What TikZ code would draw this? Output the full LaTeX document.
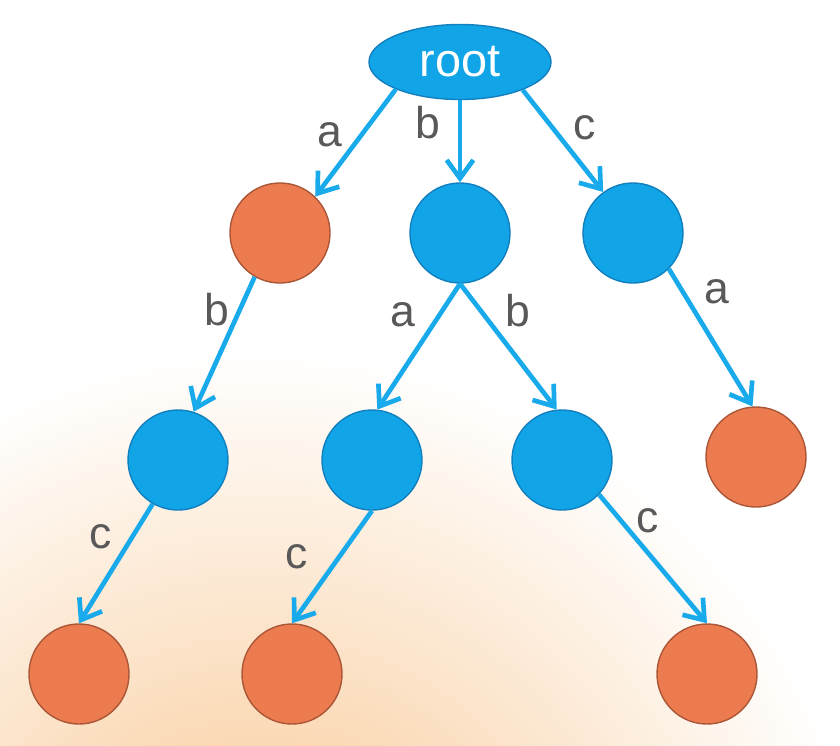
\documentclass[tikz,border=0pt]{standalone}
\usepackage{fontspec}
\setmainfont{Liberation Sans}
\usetikzlibrary{arrows.meta,shapes.geometric}

\definecolor{nodeblue}{RGB}{17,165,232}
\definecolor{nodeblueedge}{RGB}{18,128,190}
\definecolor{nodeorange}{RGB}{236,124,80}
\definecolor{nodeorangeedge}{RGB}{172,86,56}
\definecolor{edgeblue}{RGB}{25,170,235}
\definecolor{labelgray}{RGB}{89,89,89}
\definecolor{bgorange}{RGB}{248,196,140}

\begin{document}
\begin{tikzpicture}[
  x=0.03cm, y=-0.03cm,
  font=\fontsize{38}{44}\selectfont,
  rootnode/.style={ellipse, draw=nodeblueedge, line width=1.2pt, fill=nodeblue,
    minimum width=5.46cm, minimum height=2.25cm, inner sep=0pt,
    text=white, font=\fontsize{40}{46}\selectfont},
  inner/.style={circle, draw=nodeblueedge, line width=1.2pt, fill=nodeblue,
    minimum size=3cm, inner sep=0pt},
  leaf/.style={circle, draw=nodeorangeedge, line width=1.2pt, fill=nodeorange,
    minimum size=3cm, inner sep=0pt},
  lbl/.style={text=labelgray, inner sep=0pt},
  arrow/.style={-{Straight Barb[length=0.55cm, width=0.8cm]}, draw=edgeblue,
    line width=4pt}
]
  % background
  \useasboundingbox (0,0) rectangle (840,745);
  \fill[white] (0,0) rectangle (840,745);
  \begin{scope}
    \clip (0,0) rectangle (840,745);
    \shade[inner color=bgorange, outer color=white] (260,960) circle (18.3cm);
  \end{scope}

  % nodes
  \node[rootnode] (root) at (460,62) {root};
  \node[leaf]  (o1) at (280,233) {};
  \node[inner] (b1) at (460,233) {};
  \node[inner] (b2) at (633,233) {};
  \node[inner] (ba) at (178,460) {};
  \node[inner] (bb) at (372,460) {};
  \node[inner] (bc) at (562,460) {};
  \node[leaf]  (o2) at (756,457) {};
  \node[leaf]  (oa) at (79,674) {};
  \node[leaf]  (ob) at (292,674) {};
  \node[leaf]  (oc) at (707,674) {};

  % edges
  \draw[arrow] (root.203) -- (o1.46);
  \draw[arrow] (root.south) -- (b1.north);
  \draw[arrow] (root.336) -- (b2.126);
  \draw[arrow] (o1.240) -- (ba.72);
  \draw[arrow] (b1.south) -- (bb.84);
  \draw[arrow] (b1.south) -- (bc.96);
  \draw[arrow] (b2.315) -- (o2.94);
  \draw[arrow] (ba.240) -- (oa.north);
  \draw[arrow] (bb.south) -- (ob.north);
  \draw[arrow] (bc.317) -- (oc.north);

  % edge labels
  \node[lbl] (la1) at (330,135) {a};
  \node[lbl] (lb1) at (428,123) {b};
  \node[lbl] (lc1) at (585,128) {c};
  \node[lbl] (lb2) at (217,310) {b};
  \node[lbl] (la2) at (403,315) {a};
  \node[lbl] (lb3) at (518,311) {b};
  \node[lbl] (la3) at (717,292) {a};
  \node[lbl] (lc2) at (101,537) {c};
  \node[lbl] (lc3) at (297,557) {c};
  \node[lbl] (lc4) at (648,521) {c};
\end{tikzpicture}
\end{document}
